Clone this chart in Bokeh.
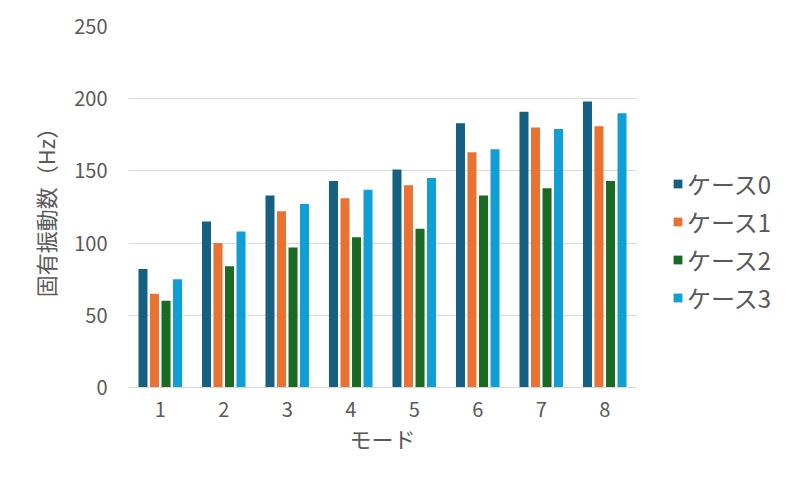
from bokeh.plotting import figure
from bokeh.models import ColumnDataSource, Legend, LegendItem, FixedTicker, Range1d
from bokeh.transform import dodge
from bokeh.embed import file_html
from bokeh.resources import INLINE

modes = [1, 2, 3, 4, 5, 6, 7, 8]
case0 = [82, 115, 133, 143, 151, 183, 191, 198]
case1 = [65, 100, 122, 131, 140, 163, 180, 181]
case2 = [60, 84, 97, 104, 110, 133, 138, 143]
case3 = [75, 108, 127, 137, 145, 165, 179, 190]
series_names = ["ケース0", "ケース1", "ケース2", "ケース3"]
colors = ["#156082", "#E97132", "#196B24", "#0F9ED5"]
y_ticks = [0, 50, 100, 150, 200, 250]

FONT = "Noto Sans CJK JP"

src = ColumnDataSource(dict(mode=modes, c0=case0, c1=case1, c2=case2, c3=case3))

p = figure(frame_width=508, frame_height=361, output_backend="svg", toolbar_location=None,
           x_range=Range1d(0.5, 8.5), y_range=Range1d(0, 250),
           min_border_left=128, min_border_right=0, min_border_top=26, min_border_bottom=84)
p.outline_line_color = None

offsets = [-0.272, -0.091, 0.091, 0.272]
items = []
for i, (col, name, c) in enumerate(zip(["c0", "c1", "c2", "c3"], series_names, colors)):
    r = p.vbar(x=dodge("mode", offsets[i]), top=col, width=0.142, bottom=0,
               source=src, fill_color=c, line_color=None)
    items.append(LegendItem(label=name, renderers=[r]))

p.xaxis.ticker = FixedTicker(ticks=modes)
p.yaxis.ticker = FixedTicker(ticks=y_ticks)
p.xgrid.grid_line_color = None
p.ygrid.grid_line_color = "#D9D9D9"
p.ygrid.grid_line_width = 1

for ax in (p.xaxis, p.yaxis):
    ax.major_tick_line_color = None
    ax.minor_tick_line_color = None
    ax.major_label_text_font = FONT
    ax.major_label_text_font_size = "20px"
    ax.major_label_text_color = "#595959"
    ax.axis_label_text_font = FONT
    ax.axis_label_text_font_size = "22px"
    ax.axis_label_text_color = "#595959"
    ax.axis_label_text_font_style = "normal"

p.yaxis.axis_line_color = None
p.xaxis.axis_line_color = "#D9D9D9"
p.xaxis.axis_label = "モード"
p.yaxis.axis_label = "固有振動数（Hz）"
p.xaxis.major_label_standoff = 8
p.yaxis.major_label_standoff = 15
p.xaxis.axis_label_standoff = 2
p.yaxis.axis_label_standoff = 10

legend = Legend(items=items, location=(36, 72),
                label_text_font=FONT, label_text_font_size="24px",
                label_text_color="#595959",
                glyph_width=11, glyph_height=11, spacing=3,
                border_line_color=None, background_fill_alpha=0,
                margin=0, padding=0, label_standoff=4)
p.add_layout(legend, "right")

open("out.html", "w").write(file_html(p, INLINE))
